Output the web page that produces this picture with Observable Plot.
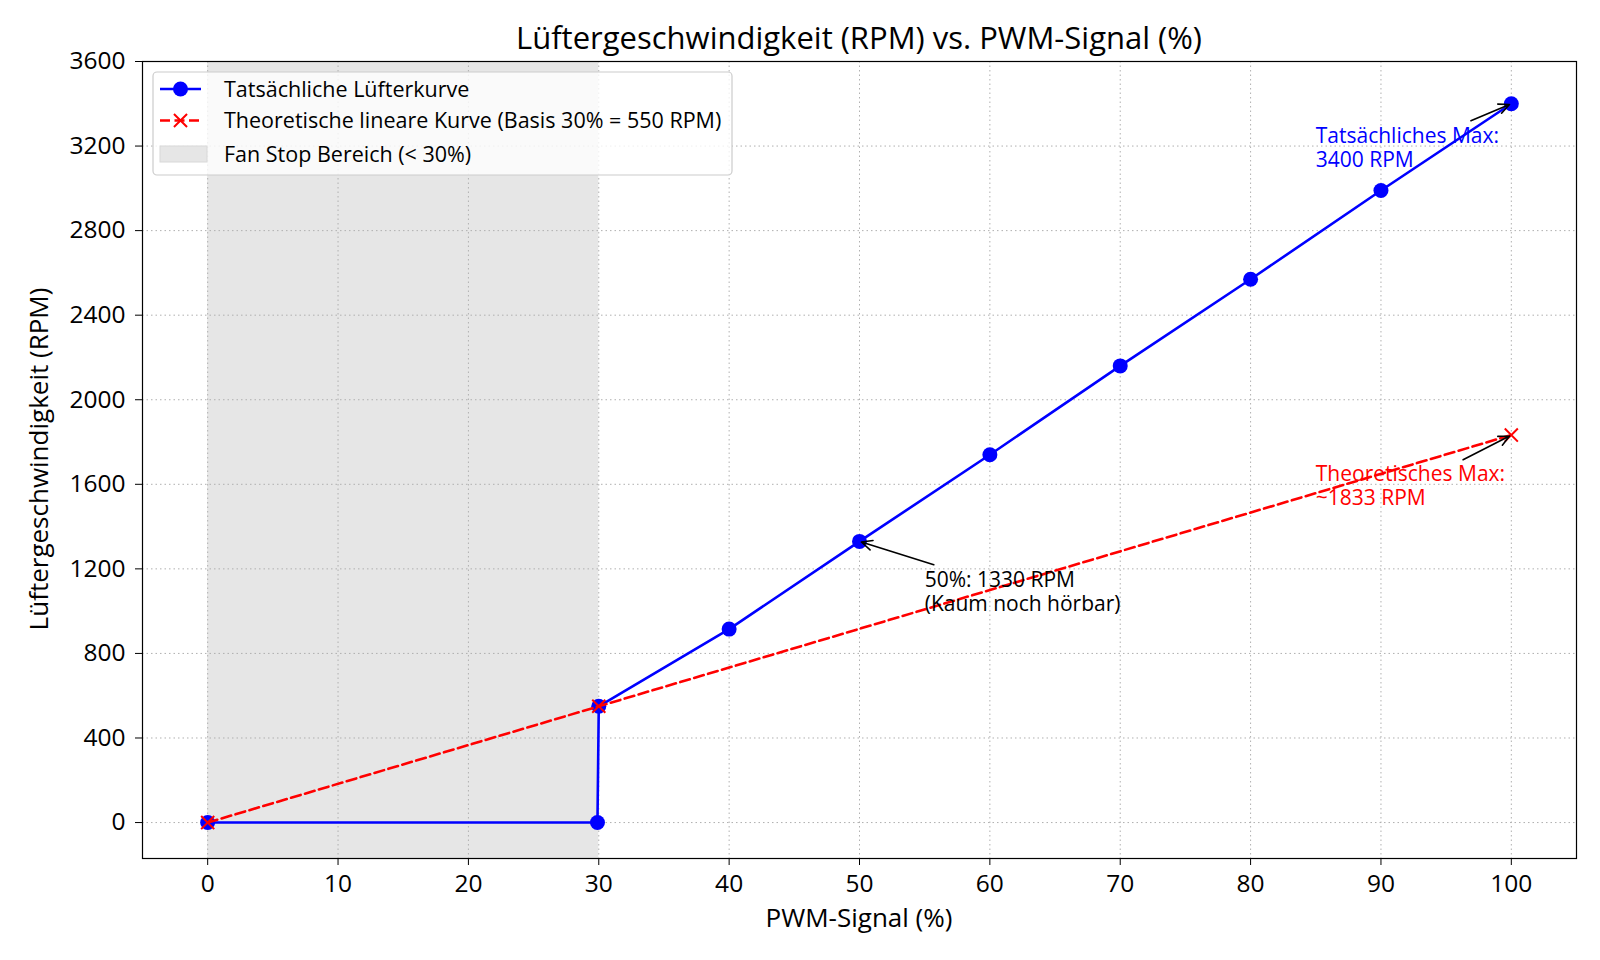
<!DOCTYPE html>
<html><head><meta charset="utf-8">
<script src="https://cdn.jsdelivr.net/npm/d3@7"></script>
<script src="https://cdn.jsdelivr.net/npm/@observablehq/plot@0.6"></script>
<style>
body{margin:0;background:#fff;font-family:"Open Sans",sans-serif;}
#wrap{position:relative;width:1600px;height:960px;}
#title{position:absolute;left:0;width:1718px;top:17px;height:40px;line-height:40px;text-align:center;font-size:31px;color:#000;}
</style></head><body>
<div id="wrap">
<div id="chart"></div>
<div id="title">Lüftergeschwindigkeit (RPM) vs. PWM-Signal (%)</div>
</div>
<script>
// Data
const pwmActual = [0, 29.9, 30, 40, 50, 60, 70, 80, 90, 100];
const rpmActual = [0, 0, 550, 915, 1330, 1740, 2160, 2570, 2990, 3400];
const pwmTheory = [0, 30, 100];
const rpmTheory = [0, 550, 1833];
const fanStopRange = [0, 30];
const xTicks = [0, 10, 20, 30, 40, 50, 60, 70, 80, 90, 100];
const yTicks = [0, 400, 800, 1200, 1600, 2000, 2400, 2800, 3200, 3600];
const legendLabels = ["Tatsächliche Lüfterkurve", "Theoretische lineare Kurve (Basis 30% = 550 RPM)", "Fan Stop Bereich (< 30%)"];
const noteTexts = ["Tatsächliches Max:\n3400 RPM", "Theoretisches Max:\n~1833 RPM", "50%: 1330 RPM\n(Kaum noch hörbar)"];
const noteX = [85, 85, 55];
const noteY = [3100, 1500, 1000];
const noteColors = ["blue", "red", "black"];
const arrowFromX = [96.9, 96.3, 55.7];
const arrowFromY = [3320, 1716, 1220];
const arrowToX = [100, 100, 50];
const arrowToY = [3400, 1833, 1330];

const actual = pwmActual.map((x, i) => ({x, y: rpmActual[i]}));
const theory = pwmTheory.map((x, i) => ({x, y: rpmTheory[i]}));
const notes = noteTexts.map((t, i) => ({t, x: noteX[i], y: noteY[i], c: noteColors[i]}));
const arrows = arrowToX.map((x, i) => ({x1: arrowFromX[i], y1: arrowFromY[i], x2: x, y2: arrowToY[i]}));

const TICKFONT = 24.5, LABELFONT = 26, LEGFONT = 21.5, NOTEFONT = 21;
const chart = Plot.plot({
  width: 1600, height: 960,
  marginLeft: 142, marginRight: 24, marginTop: 61, marginBottom: 102,
  style: {fontFamily: '"Open Sans", sans-serif', fontSize: TICKFONT + "px", color: "black", background: "white"},
  x: {domain: [-5, 105]},
  y: {domain: [-170, 3600]},
  marks: [
    Plot.rect([{x1: fanStopRange[0], x2: fanStopRange[1]}], {x1: "x1", x2: "x2", fill: "#e6e6e6"}),
    Plot.gridX(xTicks, {stroke: "#b0b0b0", strokeOpacity: 1, strokeWidth: 1, strokeDasharray: "1.5,3"}),
    Plot.gridY(yTicks, {stroke: "#b0b0b0", strokeOpacity: 1, strokeWidth: 1, strokeDasharray: "1.5,3"}),
    Plot.axisX(xTicks, {tickSize: 7, tickPadding: 9, fontSize: TICKFONT, label: null, stroke: "black", tickFormat: d => String(d)}),
    Plot.axisY(yTicks, {tickSize: 7, tickPadding: 10, fontSize: TICKFONT, label: null, stroke: "black", tickFormat: d => String(d)}),
    Plot.line(actual, {x: "x", y: "y", stroke: "blue", strokeWidth: 2.6}),
    Plot.dot(actual, {x: "x", y: "y", fill: "blue", r: 7.5}),
    Plot.line(theory, {x: "x", y: "y", stroke: "red", strokeWidth: 2.6, strokeDasharray: "10,4.5"}),
    Plot.dot(theory, {x: "x", y: "y", symbol: "times", stroke: "red", r: 6, strokeWidth: 2}),
    Plot.text(notes, {x: "x", y: "y", text: "t", fill: "c", textAnchor: "start", lineAnchor: "bottom", lineHeight: 1.15, fontSize: NOTEFONT}),
    Plot.arrow(arrows, {x1: "x1", y1: "y1", x2: "x2", y2: "y2", stroke: "black", strokeWidth: 1.6, headLength: 11, headAngle: 50, insetEnd: 2}),
    Plot.frame({stroke: "black", strokeWidth: 1.2})
  ]
});
document.getElementById("chart").appendChild(chart);

const svg = d3.select(chart);
// Axis labels
svg.append("text").attr("x", 859).attr("y", 918).attr("dy", "0.35em").attr("text-anchor", "middle")
  .attr("font-size", LABELFONT).attr("fill", "black").text("PWM-Signal (%)");
svg.append("text").attr("transform", "translate(39,459) rotate(-90)").attr("dy", "0.35em").attr("text-anchor", "middle")
  .attr("font-size", LABELFONT).attr("fill", "black").text("Lüftergeschwindigkeit (RPM)");

// Legend
const lg = svg.append("g").attr("text-anchor", "start");
lg.append("rect").attr("x", 153).attr("y", 72).attr("width", 579).attr("height", 103).attr("rx", 4)
  .attr("fill", "white").attr("fill-opacity", 0.8).attr("stroke", "#cccccc").attr("stroke-width", 1.2);
const rowsY = [89, 120.5, 154];
lg.append("line").attr("x1", 160).attr("x2", 201).attr("y1", rowsY[0]).attr("y2", rowsY[0]).attr("stroke", "blue").attr("stroke-width", 2.6);
lg.append("circle").attr("cx", 180.5).attr("cy", rowsY[0]).attr("r", 7.5).attr("fill", "blue");
lg.append("line").attr("x1", 160).attr("x2", 201).attr("y1", rowsY[1]).attr("y2", rowsY[1]).attr("stroke", "red").attr("stroke-width", 2.6).attr("stroke-dasharray", "10,4.5");
lg.append("path").attr("d", d3.symbol(d3.symbolTimes, 6 * 6 * Math.PI)()).attr("transform", `translate(180.5,${rowsY[1]})`).attr("stroke", "red").attr("stroke-width", 2).attr("fill", "none");
lg.append("rect").attr("x", 160).attr("y", rowsY[2] - 8).attr("width", 47).attr("height", 16).attr("fill", "#e6e6e6").attr("stroke", "#d8d8d8");
legendLabels.forEach((t, i) => {
  lg.append("text").attr("x", 224).attr("y", rowsY[i]).attr("dy", "0.35em").attr("text-anchor", "start").attr("font-size", LEGFONT).attr("fill", "black").text(t);
});
</script>
</body></html>
